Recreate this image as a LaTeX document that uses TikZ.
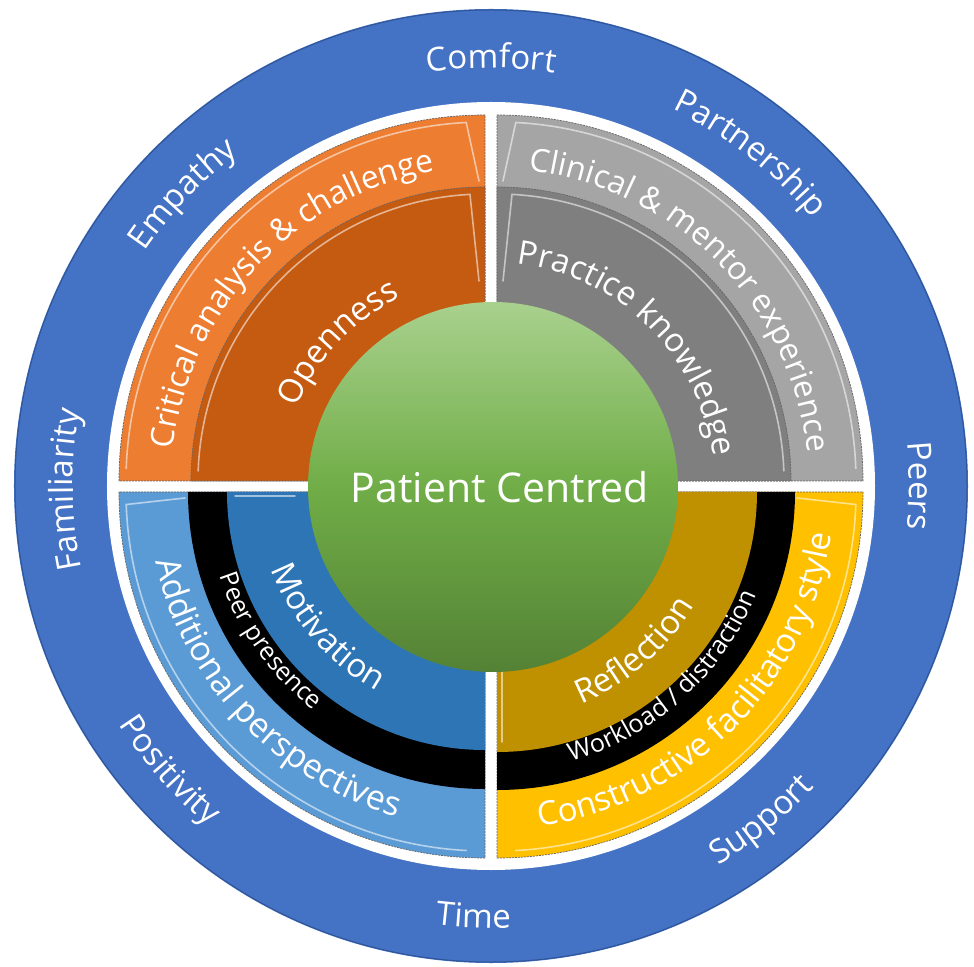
\documentclass[tikz,border=0pt]{standalone}
\usepackage{fontspec}
\setmainfont{Open Sans}
\usetikzlibrary{decorations.text}
\definecolor{ringblue}{HTML}{4472C4}
\definecolor{ringedge}{HTML}{2F5597}
\definecolor{orlight}{HTML}{ED7D31}
\definecolor{ordark}{HTML}{C55A11}
\definecolor{grlight}{HTML}{A5A5A5}
\definecolor{grdark}{HTML}{7F7F7F}
\definecolor{bllight}{HTML}{5B9BD5}
\definecolor{bldark}{HTML}{2E75B6}
\definecolor{yelight}{HTML}{FFC000}
\definecolor{yedark}{HTML}{BF9000}
\definecolor{gntop}{HTML}{A9D18E}
\definecolor{gnmid}{HTML}{70AD47}
\definecolor{gnbot}{HTML}{548235}
% angle, radius, size, text
\newcommand\cwlab[4]{%
  \path[decorate, decoration={text along path, text align=center,
    text={|\fontsize{#3}{#3}\selectfont\color{white}|#4}}]
    ({#1+80}:#2pt) arc[start angle={#1+80}, end angle={#1-80}, radius=#2pt];}
\newcommand\ccwlab[4]{%
  \path[decorate, decoration={text along path, text align=center,
    text={|\fontsize{#3}{#3}\selectfont\color{white}|#4}}]
    ({#1-80}:#2pt) arc[start angle={#1-80}, end angle={#1+80}, radius=#2pt];}
\begin{document}
\begin{tikzpicture}[x=1pt,y=1pt,
  edge/.style={draw=black!60, line width=0.7pt, dash pattern=on 2pt off 1pt},
  hl/.style={draw=white, opacity=0.55, line width=1.6pt, line cap=round}]
\useasboundingbox (-491,-480) rectangle (483,486);
% outer ring
\fill[ringblue] (0,0) circle[radius=477pt];
\draw[ringedge, line width=1pt] (0,0) circle[radius=476pt];
\fill[white] (0,0) circle[radius=384pt];
% top-left quadrant (orange)
\begin{scope}[shift={(-6,5)}]
  \path[fill=orlight, edge] (0,0) -- (90:366pt) arc[start angle=90, end angle=180, radius=366pt] -- cycle;
  \path[fill=ordark, edge] (0,0) -- (90:294pt) arc[start angle=90, end angle=180, radius=294pt] -- cycle;
  \draw[hl] (178:359pt) arc[start angle=178, end angle=93, radius=359pt] -- (-6,300);
  \draw[hl] (178:287pt) arc[start angle=178, end angle=93, radius=287pt] -- (-6,200);
\end{scope}
% top-right quadrant (grey)
\begin{scope}[shift={(6,5)}]
  \path[fill=grlight, edge] (0,0) -- (0:366pt) arc[start angle=0, end angle=90, radius=366pt] -- cycle;
  \path[fill=grdark, edge] (0,0) -- (0:294pt) arc[start angle=0, end angle=90, radius=294pt] -- cycle;
  \draw[hl] (6,300) -- (87:359pt) arc[start angle=87, end angle=2, radius=359pt];
  \draw[hl] (6,200) -- (87:287pt) arc[start angle=87, end angle=2, radius=287pt];
\end{scope}
% bottom-left quadrant (blue)
\begin{scope}[shift={(-6,-6)}]
  \path[fill=bllight, edge] (0,0) -- (180:366pt) arc[start angle=180, end angle=270, radius=366pt] -- cycle;
  \fill[black] (0,0) -- (180:297pt) arc[start angle=180, end angle=270, radius=297pt] -- cycle;
  \fill[bldark] (0,0) -- (180:258pt) arc[start angle=180, end angle=270, radius=258pt] -- cycle;
  \draw[hl] (-300,-6) -- (182:359pt) arc[start angle=182, end angle=267, radius=359pt];
  \draw[hl] (-250,-4) -- (-190,-4);
\end{scope}
% bottom-right quadrant (yellow)
\begin{scope}[shift={(6,-6)}]
  \path[fill=yelight, edge] (0,0) -- (270:366pt) arc[start angle=270, end angle=360, radius=366pt] -- cycle;
  \fill[black] (0,0) -- (270:298pt) arc[start angle=270, end angle=360, radius=298pt] -- cycle;
  \fill[yedark] (0,0) -- (270:260pt) arc[start angle=270, end angle=360, radius=260pt] -- cycle;
  \draw[hl] (273:359pt) arc[start angle=273, end angle=358, radius=359pt] -- (300,-6);
  \draw[hl] (5,-30) -- (5,-250);
\end{scope}
% centre
\node[circle, minimum size=370pt, inner sep=0pt, top color=gntop, bottom color=gnbot, middle color=gnmid] (pc) at (2,-1) {};
\node[text=white, font=\fontsize{41}{41}\selectfont] (pct) at (9,-1) {Patient Centred};
% ring labels
\cwlab{90}{418}{33}{Comfort}
\cwlab{52}{418}{33}{Partnership}
\cwlab{136.5}{418}{33}{Empathy}
\cwlab{180.5}{418}{33}{Familiarity}
\cwlab{0}{418}{33}{Peers}
\ccwlab{221.5}{442}{33}{Positivity}
\ccwlab{267.7}{442}{33}{Time}
\ccwlab{309}{442}{33}{Support}
% quadrant labels
\cwlab{136.8}{320}{32}{Critical analysis {\&} challenge}
\cwlab{136.8}{209}{33}{Openness}
\cwlab{44.6}{318}{32}{Clinical {\&} mentor experience}
\cwlab{45.4}{224}{33}{Practice knowledge}
\ccwlab{223.4}{344}{34}{Additional perspectives}
\ccwlab{215}{286}{25}{Peer presence}
\ccwlab{220.8}{235}{33}{Motivation}
\ccwlab{311}{236}{33}{Reflection}
\ccwlab{312}{287}{25}{Workload / distraction}
\ccwlab{315}{344}{33}{Constructive facilitatory style}
\end{tikzpicture}
\end{document}
